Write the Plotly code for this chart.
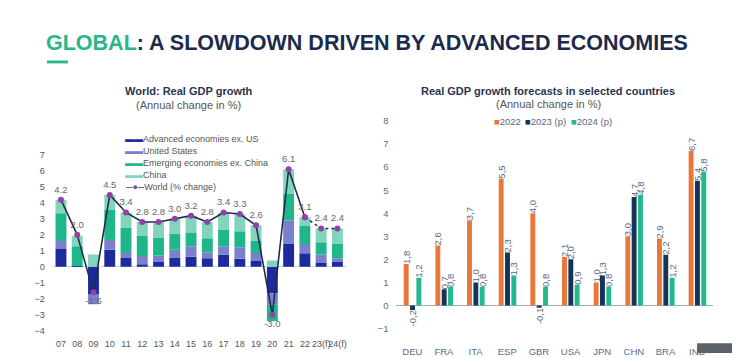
import plotly.graph_objects as go

# ---------------- data ----------------
years = ["07", "08", "09", "10", "11", "12", "13", "14", "15", "16", "17", "18", "19", "20", "21", "22", "23(f)", "24(f)"]
adv_ex_us = [1.12, 0.03, -1.70, 1.07, 0.55, 0.16, 0.30, 0.55, 0.63, 0.53, 0.75, 0.51, 0.37, -1.66, 1.46, 0.85, 0.24, 0.30]
united_states = [0.50, 0.00, -0.65, 0.61, 0.32, 0.51, 0.41, 0.52, 0.65, 0.38, 0.53, 0.71, 0.50, -0.71, 1.44, 0.57, 0.53, 0.23]
emerging_ex_china = [1.73, 1.25, 0.00, 1.87, 1.56, 1.26, 1.12, 1.00, 0.83, 0.87, 1.05, 1.01, 0.75, -1.02, 1.66, 1.14, 0.77, 0.93]
china = [0.85, 0.67, 0.77, 0.95, 0.97, 0.87, 0.97, 0.93, 1.09, 1.02, 1.07, 1.07, 0.98, 0.40, 1.54, 0.54, 0.86, 0.94]
world = [4.2, 2.0, -1.6, 4.5, 3.4, 2.8, 2.8, 3.0, 3.2, 2.8, 3.4, 3.3, 2.6, -3.0, 6.1, 3.1, 2.4, 2.4]
left_series = ["Advanced economies ex. US", "United States", "Emerging economies ex. China", "China"]
world_name = "World (% change)"

countries = ["DEU", "FRA", "ITA", "ESP", "GBR", "USA", "JPN", "CHN", "BRA", "IND"]
g2022 = [1.8, 2.6, 3.7, 5.5, 4.0, 2.1, 1.0, 3.0, 2.9, 6.7]
g2023 = [-0.2, 0.7, 1.0, 2.3, -0.1, 2.0, 1.3, 4.7, 2.2, 5.4]
g2024 = [1.2, 0.8, 0.8, 1.3, 0.8, 0.9, 0.8, 4.8, 1.2, 5.8]
right_series = ["2022", "2023 (p)", "2024 (p)"]

# ---------------- style ----------------
# the page body has an 8px margin, so the figure is offset by 8px
OFF = 8
W, H = 740 - OFF, 358 - OFF
def px(x):
    return (x - OFF) / W
def py(y):
    return 1 - (y - OFF) / H

C_ADV = "#1d2a9e"
C_US = "#7b80cc"
C_EM = "#1fb68a"
C_CN = "#82d5bc"
C_LINE = "#1f2d4d"
C_MARK = "#9340ad"
C_22 = "#e8773a"
C_23 = "#13355a"
C_24 = "#22b98f"
FONT = "Liberation Sans"
left_cols = [C_ADV, C_US, C_EM, C_CN]

fig = go.Figure()

for name, vals, col in zip(left_series, [adv_ex_us, united_states, emerging_ex_china, china], left_cols):
    fig.add_trace(go.Bar(x=years, y=vals, name=name, marker=dict(color=col, line=dict(width=0)),
                         xaxis="x", yaxis="y", offsetgroup="L", showlegend=False,
                         hoverinfo="skip"))

def fmt_dot(v):
    return f"{v:.1f}"

pos = ["bottom center" if v < 0 else "top center" for v in world]
n_solid = 16
fig.add_trace(go.Scatter(x=years[:n_solid], y=world[:n_solid], name=world_name,
                         mode="lines+markers+text", text=[fmt_dot(v) for v in world[:n_solid]],
                         textposition=pos[:n_solid], textfont=dict(size=9.5, color="#666666", family=FONT),
                         line=dict(color=C_LINE, width=1.6), marker=dict(color=C_MARK, size=6),
                         xaxis="x", yaxis="y", showlegend=False, cliponaxis=False))
fig.add_trace(go.Scatter(x=years[n_solid - 1:], y=world[n_solid - 1:], showlegend=False,
                         mode="lines+markers+text", text=[""] + [fmt_dot(v) for v in world[n_solid:]],
                         textposition="top center", textfont=dict(size=9.5, color="#666666", family=FONT),
                         line=dict(color=C_LINE, width=1.4, dash="dot"), marker=dict(color=C_MARK, size=6),
                         xaxis="x", yaxis="y", cliponaxis=False))

def fmt_comma(v):
    return f"{v:.1f}".replace(".", ",")

for vals, col, off, nm in zip([g2022, g2023, g2024], [C_22, C_23, C_24], [-0.27, -0.07, 0.13], right_series):
    fig.add_trace(go.Bar(x=countries, y=vals, name=nm, marker=dict(color=col, line=dict(width=0)),
                         width=0.155, offset=off, offsetgroup=nm,
                         text=[fmt_comma(v) for v in vals], textposition="outside", textangle=-90,
                         constraintext="none", cliponaxis=False,
                         textfont=dict(size=9.5, color="#5a6880", family=FONT),
                         xaxis="x2", yaxis="y2", showlegend=False, hoverinfo="skip"))

axis_font = dict(size=9, color="#555555", family=FONT)
axis_font2 = dict(size=9.5, color="#5a6b88", family=FONT)

fig.update_layout(
    width=W, height=H, margin=dict(l=0, r=0, t=0, b=0),
    paper_bgcolor="white", plot_bgcolor="white",
    barmode="relative", bargap=0.33,
    font=dict(family=FONT),
    showlegend=False,
    xaxis=dict(domain=[px(52.9), px(346)], anchor="y", range=[-0.5, 17.5], showgrid=False, showline=False,
               ticks="", tickangle=0, tickfont=axis_font, ticklabelstandoff=6, fixedrange=True),
    yaxis=dict(domain=[py(335), py(153.5)], anchor="x", range=[-4, 7], dtick=1, showgrid=False, showline=False,
               zeroline=True, zerolinecolor="#c9d3e0", zerolinewidth=1, tickfont=axis_font,
               ticklabelstandoff=7, fixedrange=True),
    xaxis2=dict(domain=[px(397), px(714)], anchor="y2", range=[-0.5, 9.5], showgrid=False, showline=False,
                ticks="", tickangle=0, tickfont=axis_font2, ticklabelstandoff=16, fixedrange=True),
    yaxis2=dict(domain=[py(332.7), py(118.5)], anchor="x2", range=[-1, 8], dtick=1, showgrid=False,
                showline=False, zeroline=True, zerolinecolor="#9eb0c4", zerolinewidth=1,
                tickfont=axis_font2, ticklabelstandoff=7, fixedrange=True),
)

annotations = [
    dict(x=px(367.5), y=py(38), xref="paper", yref="paper", xanchor="center", yanchor="middle", showarrow=False,
         text="<b><span style='color:#2bb58a'>GLOBAL</span>: A SLOWDOWN DRIVEN BY ADVANCED ECONOMIES</b>",
         font=dict(size=21.5, color="#1c2b4d", family=FONT)),
    dict(x=px(189), y=py(87), xref="paper", yref="paper", xanchor="center", yanchor="middle", showarrow=False,
         text="<b>World: Real GDP growth</b>", font=dict(size=11, color="#2b3552", family=FONT)),
    dict(x=px(189), y=py(101.5), xref="paper", yref="paper", xanchor="center", yanchor="middle", showarrow=False,
         text="(Annual change in %)", font=dict(size=11, color="#555555", family=FONT)),
    dict(x=px(549), y=py(88), xref="paper", yref="paper", xanchor="center", yanchor="middle", showarrow=False,
         text="<b>Real GDP growth forecasts in selected countries</b>", font=dict(size=11, color="#2b3552", family=FONT)),
    dict(x=px(549), y=py(101), xref="paper", yref="paper", xanchor="center", yanchor="middle", showarrow=False,
         text="(Annual change in %)", font=dict(size=11, color="#555555", family=FONT)),
]

# left legend (series names and colours)
leg_y = [137.3, 149.7, 162, 174.4, 186.7]
for nm, col, ly in zip(left_series, left_cols, leg_y[:4]):
    annotations.append(dict(x=px(123), y=py(ly), xref="paper", yref="paper", xanchor="left", yanchor="middle",
                            showarrow=False, text=f"<span style='color:{col}'>▬▬</span>{nm}",
                            font=dict(size=9, color="#555555", family=FONT)))
annotations.append(dict(x=px(123), y=py(leg_y[4]), xref="paper", yref="paper", xanchor="left", yanchor="middle",
                        showarrow=False,
                        text=f"<span style='color:{C_LINE}'>─</span><span style='color:{C_MARK}'>●</span>"
                             f"<span style='color:{C_LINE}'>─</span>{world_name}",
                        font=dict(size=9, color="#555555", family=FONT)))

# right legend
leg_x = [493, 524, 570]
for nm, col, lx in zip(right_series, [C_22, C_23, C_24], leg_x):
    annotations.append(dict(x=px(lx), y=py(119), xref="paper", yref="paper", xanchor="left", yanchor="middle",
                            showarrow=False, text=f"<span style='color:{col}'>■</span>{nm}",
                            font=dict(size=9.5, color="#5a6880", family=FONT)))
fig.update_layout(annotations=annotations)

fig.update_layout(shapes=[
    dict(type="rect", xref="paper", yref="paper", x0=px(47), x1=px(68), y0=py(59), y1=py(56),
         fillcolor="#2bb58a", line=dict(width=0)),
    dict(type="rect", xref="paper", yref="paper", x0=px(698), x1=1, y0=0, y1=py(348),
         fillcolor="#5c6068", line=dict(width=0), layer="above"),
])

fig.write_html("out.html")
